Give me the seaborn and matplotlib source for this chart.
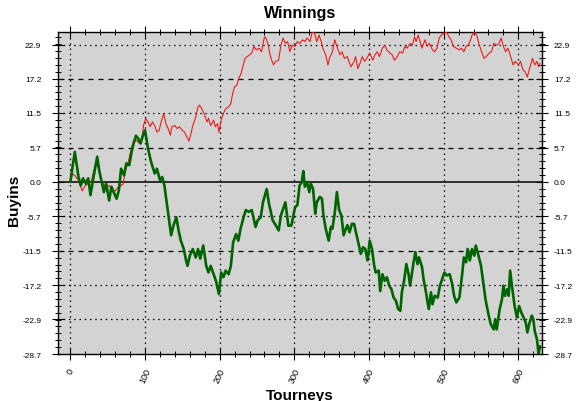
import matplotlib
matplotlib.use("Agg")
import matplotlib.pyplot as plt
import numpy as np
import pandas as pd
import seaborn as sns
from matplotlib.ticker import FixedLocator, MultipleLocator

# ---------------- data ----------------
title = "Winnings"
x_label = "Tourneys"
y_label = "Buyins"
y_ticks = [-28.7, -22.9, -17.2, -11.5, -5.7, 0.0, 5.7, 11.5, 17.2, 22.9]
y_tick_labels = ["-28.7", "-22.9", "-17.2", "-11.5", "-5.7", "0.0", "5.7", "11.5", "17.2", "22.9"]
x_ticks = [0, 100, 200, 300, 400, 500, 600]

green_t = [0, 6, 11, 14, 17, 21, 24, 27, 30, 33, 36, 39, 42, 45, 48, 52, 55, 58, 62, 65,
           68, 72, 75, 79, 82, 85, 88, 91, 94, 97, 100, 104, 108, 113, 116, 120, 123, 126, 129, 132,
           135, 138, 142, 145, 148, 152, 155, 157, 160, 164, 168, 171, 174, 178, 182, 185, 188, 192, 195, 199,
           202, 205, 208, 212, 215, 218, 222, 225, 228, 232, 235, 239, 243, 248, 251, 255, 258, 263, 266, 271,
           274, 279, 282, 285, 288, 292, 296, 301, 304, 307, 310, 312, 314, 317, 320, 322, 325, 328, 330, 334,
           337, 339, 342, 346, 349, 351, 354, 357, 360, 363, 366, 369, 371, 374, 377, 380, 383, 386, 389, 392,
           395, 398, 401, 404, 407, 409, 413, 415, 418, 421, 424, 427, 430, 433, 436, 439, 442, 444, 447, 450,
           453, 455, 459, 462, 465, 467, 471, 473, 476, 480, 483, 485, 488, 492, 495, 498, 501, 504, 508, 511,
           514, 517, 521, 523, 525, 527, 530, 532, 535, 538, 541, 543, 546, 550, 553, 556, 560, 563, 567, 569,
           571, 575, 578, 580, 582, 585, 587, 589, 592, 595, 598, 601, 604, 607, 610, 612, 615, 618, 620, 622,
           625, 627, 629]
green_v = [0.0, 5.0, 0.8, -0.6, 0.6, -0.3, 0.6, -2.2, 0.0, 2.2, 4.2, 1.7, 0.0, -1.7, -0.3, -3.1, -0.8, -1.7, -2.8, -1.4,
           2.2, 1.1, 3.1, 2.8, 5.0, 6.6, 7.7, 7.2, 6.4, 7.7, 8.6, 5.6, 3.4, 1.4, 2.2, 0.3, 0.8, -0.6, -3.4, -6.1,
           -8.9, -7.3, -5.9, -8.1, -9.8, -11.2, -13.1, -14.0, -12.3, -11.2, -12.6, -11.2, -12.8, -10.6, -14.0, -15.1, -14.0, -15.4, -16.5, -18.7,
           -15.1, -15.9, -14.8, -15.4, -14.0, -10.1, -8.7, -9.8, -7.8, -5.9, -4.7, -5.0, -4.7, -7.5, -6.4, -5.9, -3.4, -1.2, -3.6, -6.4,
           -7.0, -8.1, -5.6, -4.5, -3.4, -7.3, -7.3, -4.2, -3.9, -0.6, 0.0, 1.8, -0.8, 0.0, -1.7, -0.3, -1.1, -5.3, -3.4, -2.5,
           -2.8, -5.6, -7.8, -9.8, -7.5, -7.8, -5.3, -1.7, -4.7, -5.6, -8.9, -7.8, -7.2, -8.4, -7.0, -7.0, -8.7, -10.3, -12.0, -10.9,
           -11.2, -13.1, -9.8, -11.2, -14.0, -15.1, -14.8, -18.2, -15.4, -16.5, -15.9, -17.3, -17.9, -19.3, -19.8, -21.2, -21.5, -18.4, -16.5, -13.7,
           -15.4, -17.3, -14.0, -11.7, -13.7, -12.6, -14.2, -16.2, -18.2, -21.2, -18.4, -20.4, -19.0, -19.3, -17.3, -16.2, -15.1, -15.6, -15.4, -16.8,
           -19.0, -20.1, -19.3, -17.3, -15.1, -12.6, -13.4, -11.2, -13.1, -11.2, -12.3, -10.6, -12.0, -14.0, -16.8, -19.6, -22.1, -23.7, -24.6, -22.9,
           -24.6, -21.2, -19.6, -17.3, -19.0, -17.9, -19.0, -14.8, -17.9, -20.7, -22.6, -20.7, -21.8, -22.6, -23.5, -25.1, -23.5, -22.3, -22.9, -24.9,
           -26.3, -28.7, -27.4]

red_t = [0, 3, 6, 11, 14, 16, 20, 24, 28, 31, 34, 36, 42, 48, 52, 55, 60, 64, 68, 71,
         73, 77, 80, 83, 86, 89, 93, 96, 98, 101, 104, 107, 110, 113, 116, 119, 121, 123, 125, 128,
         131, 134, 136, 140, 143, 146, 150, 153, 156, 159, 162, 164, 168, 171, 173, 176, 180, 183, 185, 188,
         192, 194, 197, 199, 202, 205, 208, 212, 215, 217, 220, 223, 226, 228, 231, 234, 237, 240, 243, 246,
         249, 253, 256, 260, 262, 265, 268, 272, 275, 279, 282, 285, 288, 291, 294, 297, 300, 304, 307, 311,
         314, 317, 321, 324, 327, 330, 333, 336, 338, 342, 345, 347, 351, 354, 357, 361, 364, 367, 371, 373,
         376, 380, 382, 385, 388, 391, 394, 397, 401, 405, 408, 411, 414, 418, 421, 424, 428, 431, 434, 438,
         441, 445, 448, 451, 455, 458, 461, 463, 466, 469, 471, 475, 478, 481, 485, 488, 491, 494, 497, 500,
         504, 507, 510, 513, 517, 521, 524, 527, 530, 533, 536, 538, 542, 545, 547, 550, 554, 557, 561, 564,
         567, 571, 574, 577, 580, 583, 586, 589, 593, 596, 600, 603, 606, 609, 612, 615, 619, 622, 625, 627,
         629]
red_v = [0.0, 1.3, 1.1, 0.2, -0.9, -1.5, -0.6, -0.3, 0.0, 1.6, 2.7, 3.0, 0.0, -0.9, -0.6, -1.2, -1.5, -0.9, -0.6, -0.3,
         1.6, 3.0, 4.7, 6.1, 6.6, 6.9, 6.4, 7.2, 9.4, 10.6, 10.0, 9.2, 10.0, 9.4, 8.3, 8.6, 9.7, 10.6, 11.4, 9.7,
         8.9, 7.8, 9.2, 9.4, 8.9, 9.2, 8.6, 8.3, 7.5, 6.8, 8.3, 9.4, 10.8, 12.5, 12.8, 12.2, 11.1, 10.0, 10.6, 9.4,
         10.3, 9.2, 9.7, 8.3, 10.3, 11.4, 12.2, 12.5, 13.1, 14.5, 15.9, 16.1, 17.5, 17.8, 19.2, 20.6, 20.9, 21.2, 21.5, 22.6,
         22.0, 22.3, 21.7, 24.2, 24.0, 22.8, 20.9, 19.5, 20.1, 20.3, 22.8, 24.0, 23.1, 23.4, 21.7, 22.8, 22.6, 23.4, 23.1, 23.7,
         23.4, 24.0, 23.4, 25.0, 24.8, 23.4, 24.5, 23.4, 22.3, 21.2, 19.5, 20.6, 21.7, 23.7, 22.6, 21.2, 21.7, 20.6, 20.9, 20.1,
         19.2, 20.1, 20.9, 18.9, 19.8, 20.9, 20.1, 20.6, 21.5, 20.3, 21.2, 21.7, 20.9, 22.3, 22.8, 22.0, 21.5, 21.2, 20.3, 20.9,
         21.7, 21.5, 22.6, 22.3, 23.1, 22.8, 24.2, 23.4, 24.5, 23.1, 22.3, 23.7, 22.6, 23.1, 22.0, 21.7, 22.3, 24.0, 24.5, 24.8,
         25.0, 24.2, 23.7, 22.6, 22.3, 22.0, 22.3, 21.7, 22.6, 22.8, 23.7, 24.5, 25.0, 24.2, 23.1, 22.0, 20.6, 20.9, 21.5, 21.7,
         23.1, 22.8, 23.1, 24.0, 22.6, 21.7, 22.3, 21.2, 19.5, 20.1, 19.5, 20.1, 18.7, 18.4, 17.5, 18.9, 20.6, 19.5, 20.1, 19.2,
         19.8]

# ---------------- styling ----------------
sns.set_style("ticks")
plt.rcParams['font.family'] = ['Liberation Sans', 'DejaVu Sans']
plt.rcParams['text.color'] = 'black'
plt.rcParams['axes.labelcolor'] = 'black'
plt.rcParams['xtick.color'] = 'black'
plt.rcParams['ytick.color'] = 'black'

W_PX, H_PX = 577, 402
fig = plt.figure(figsize=(W_PX / 100, H_PX / 100), dpi=100)
fig.patch.set_facecolor('white')

left, right, top, bottom = 58, 541.5, 33, 355
ax = fig.add_axes([left / W_PX, 1 - bottom / H_PX, (right - left) / W_PX, (bottom - top) / H_PX])
ax.set_facecolor('#d3d3d3')

ymin, ymax = -28.7, 25.0
xmin, xmax = -16.5, 631

# grid lines
dotted = (0, (1.2, 3.0))
dashed = (0, (4, 4))
y_grid_styles = {-22.9: dotted, -17.2: dotted, -11.5: dashed, -5.7: dotted,
                 5.7: dashed, 11.5: dotted, 17.2: dashed, 22.9: dotted}
for yv, ls in y_grid_styles.items():
    ax.axhline(yv, color='black', lw=0.9, ls=ls, zorder=1)
ax.axhline(0.0, color='black', lw=1.1, ls='-', zorder=1)
for xv in x_ticks:
    ax.axvline(xv, color='black', lw=0.9, ls=dotted, zorder=1)

red_df = pd.DataFrame({'t': red_t, 'v': red_v})
green_df = pd.DataFrame({'t': green_t, 'v': green_v})
sns.lineplot(data=red_df, x='t', y='v', ax=ax, color='#f01010', lw=0.75,
             sort=False, estimator=None, zorder=3)
sns.lineplot(data=green_df, x='t', y='v', ax=ax, color='#006400', lw=1.9,
             sort=False, estimator=None, zorder=4)

ax.set_xlim(xmin, xmax)
ax.set_ylim(ymin, ymax)
ax.set_xlabel('')
ax.set_ylabel('')

for sp in ax.spines.values():
    sp.set_visible(True)
    sp.set_color('black')
    sp.set_linewidth(1.0)

ax.xaxis.set_major_locator(FixedLocator(x_ticks))
ax.set_xticklabels([str(v) for v in x_ticks], rotation=65, ha='center', fontsize=6.5)
ax.xaxis.set_minor_locator(MultipleLocator(20))
ax.yaxis.set_major_locator(FixedLocator(y_ticks))
ax.set_yticklabels(y_tick_labels, fontsize=6)
ax.yaxis.set_minor_locator(MultipleLocator(1.148))

ax.tick_params(which='major', direction='inout', length=8, width=0.8, color='black',
               top=True, bottom=True, left=True, right=False, labelright=False)
ax.tick_params(which='minor', direction='inout', length=4.5, width=0.7, color='black',
               top=True, bottom=True, left=True, right=False)
ax.tick_params(axis='y', which='major', pad=8)
ax.tick_params(axis='x', which='major', pad=5)

ax2 = ax.twinx()
ax2.set_ylim(ymin, ymax)
ax2.yaxis.set_major_locator(FixedLocator(y_ticks))
ax2.set_yticklabels(y_tick_labels, fontsize=6)
ax2.yaxis.set_minor_locator(MultipleLocator(1.148))
ax2.tick_params(which='major', direction='inout', length=8, width=0.8, color='black', pad=5)
ax2.tick_params(which='minor', direction='inout', length=4.5, width=0.7, color='black')
ax2.grid(False)
for sp in ax2.spines.values():
    sp.set_visible(False)

fig.text((left + right) / 2 / W_PX, 1 - 18 / H_PX, title, ha='center', va='baseline',
         fontsize=11.5, fontweight='bold', color='black')
fig.text(14 / W_PX, 1 - 200 / H_PX, y_label, ha='center', va='center', rotation=90,
         fontsize=11, fontweight='bold', color='black')
fig.text(300 / W_PX, 1 - 400.5 / H_PX, x_label, ha='center', va='baseline',
         fontsize=11, fontweight='bold', color='black')

fig.savefig('out.png', dpi=100)
